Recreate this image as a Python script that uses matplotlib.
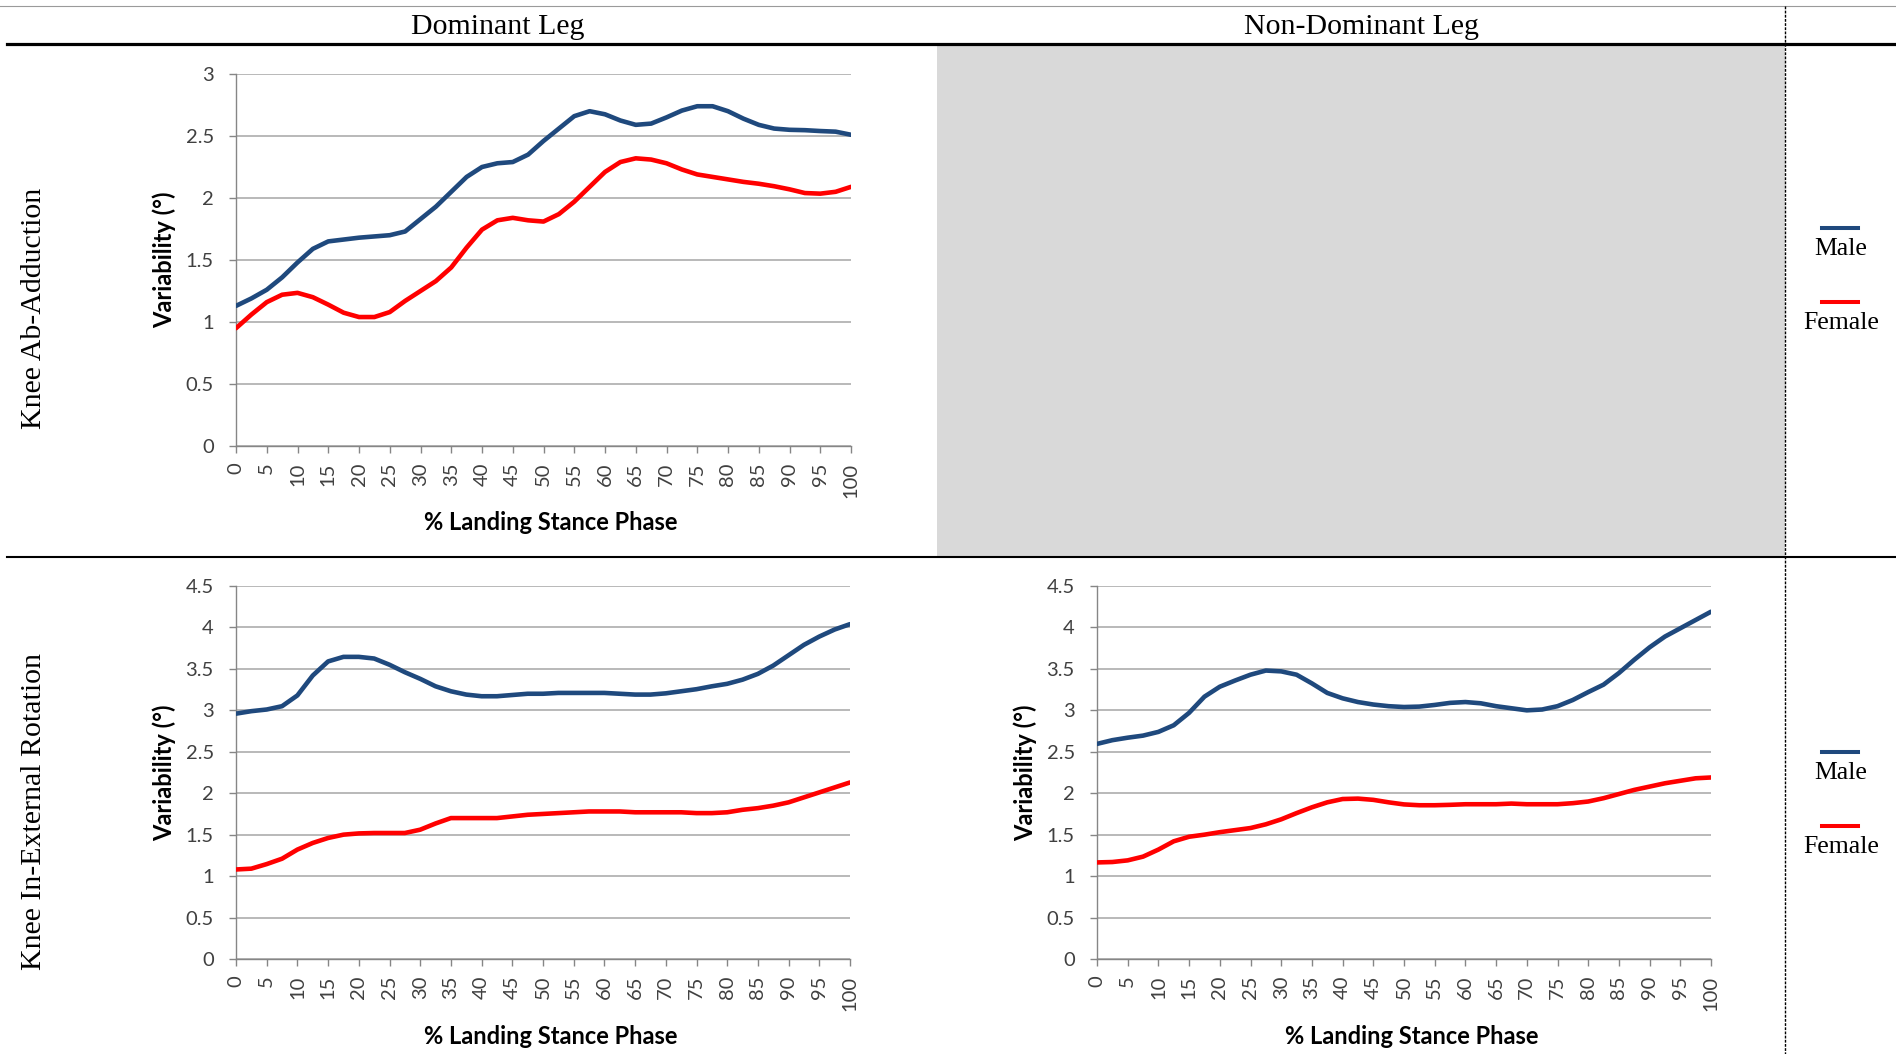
import numpy as np
import matplotlib
matplotlib.use('Agg')
import matplotlib.pyplot as plt
from matplotlib.lines import Line2D
from matplotlib.patches import Rectangle

# % fase de apoio (passo de 2.5)
fase = [0, 2.5, 5, 7.5, 10, 12.5, 15, 17.5, 20, 22.5, 25, 27.5, 30, 32.5, 35, 37.5, 40,
        42.5, 45, 47.5, 50, 52.5, 55, 57.5, 60, 62.5, 65, 67.5, 70, 72.5, 75, 77.5, 80,
        82.5, 85, 87.5, 90, 92.5, 95, 97.5, 100]

# Knee Ab-Adduction, perna dominante
abd_dom_male = [1.13, 1.19, 1.26, 1.36, 1.48, 1.59, 1.65, 1.665, 1.68, 1.69, 1.70, 1.73, 1.83,
                1.93, 2.05, 2.17, 2.25, 2.28, 2.29, 2.35, 2.46, 2.56, 2.66, 2.70, 2.675, 2.625,
                2.59, 2.60, 2.65, 2.705, 2.74, 2.74, 2.70, 2.64, 2.59, 2.56, 2.55, 2.547, 2.54,
                2.535, 2.51]
abd_dom_female = [0.95, 1.06, 1.16, 1.22, 1.235, 1.20, 1.14, 1.075, 1.04, 1.04, 1.08, 1.17, 1.25,
                  1.33, 1.44, 1.60, 1.745, 1.82, 1.84, 1.82, 1.81, 1.87, 1.97, 2.09, 2.21, 2.29,
                  2.32, 2.31, 2.28, 2.23, 2.19, 2.17, 2.15, 2.13, 2.115, 2.095, 2.07, 2.04, 2.035,
                  2.05, 2.09]

# Knee In-External Rotation, perna dominante
rot_dom_male = [2.96, 2.99, 3.01, 3.05, 3.18, 3.42, 3.59, 3.645, 3.645, 3.625, 3.55, 3.46, 3.38,
                3.29, 3.23, 3.19, 3.17, 3.17, 3.185, 3.20, 3.20, 3.21, 3.21, 3.21, 3.21, 3.20,
                3.19, 3.19, 3.205, 3.23, 3.255, 3.29, 3.32, 3.37, 3.44, 3.54, 3.665, 3.79, 3.89,
                3.975, 4.04]
rot_dom_female = [1.08, 1.09, 1.145, 1.21, 1.32, 1.40, 1.46, 1.50, 1.515, 1.52, 1.52, 1.52, 1.56,
                  1.635, 1.70, 1.70, 1.70, 1.70, 1.72, 1.74, 1.75, 1.76, 1.77, 1.78, 1.78, 1.78,
                  1.77, 1.77, 1.77, 1.77, 1.76, 1.76, 1.77, 1.80, 1.82, 1.85, 1.89, 1.95, 2.01,
                  2.07, 2.13]

# Knee In-External Rotation, perna nao dominante
rot_ndom_male = [2.595, 2.64, 2.67, 2.695, 2.74, 2.82, 2.97, 3.165, 3.285, 3.36, 3.43, 3.48, 3.47,
                 3.43, 3.325, 3.21, 3.145, 3.10, 3.07, 3.05, 3.04, 3.045, 3.065, 3.09, 3.10, 3.085,
                 3.05, 3.025, 3.00, 3.01, 3.05, 3.125, 3.22, 3.31, 3.45, 3.61, 3.76, 3.89, 3.99,
                 4.09, 4.19]
rot_ndom_female = [1.165, 1.17, 1.19, 1.235, 1.32, 1.42, 1.475, 1.50, 1.53, 1.555, 1.58, 1.625,
                   1.685, 1.76, 1.83, 1.89, 1.93, 1.935, 1.92, 1.89, 1.865, 1.855, 1.855, 1.86,
                   1.867, 1.867, 1.867, 1.875, 1.867, 1.867, 1.867, 1.88, 1.90, 1.94, 1.99, 2.04,
                   2.08, 2.12, 2.15, 2.18, 2.19]

xticks = list(range(0, 101, 5))
yticks_abd = [0, 0.5, 1, 1.5, 2, 2.5, 3]
yticks_rot = [0, 0.5, 1, 1.5, 2, 2.5, 3, 3.5, 4, 4.5]

col_headers = ['Dominant Leg', 'Non-Dominant Leg']
row_headers = ['Knee Ab-Adduction', 'Knee In-External Rotation']
legend_labels = ['Male', 'Female']

AZUL = '#1F497D'
VERMELHO = '#FF0000'
SERIF = 'Liberation Serif'
SANS = 'Lato'

W, H = 1896, 1054
fig = plt.figure(figsize=(W / 100, H / 100), dpi=100)


def fx(x):
    return x / W


def fy(y):
    return 1 - y / H


def linha(x0, y0, x1, y1, **kw):
    fig.add_artist(Line2D([fx(x0), fx(x1)], [fy(y0), fy(y1)], transform=fig.transFigure, **kw))


def painel(x0, x1, y0, y1, male, female, yticks):
    ax = fig.add_axes([fx(x0), fy(y1), (x1 - x0) / W, (y1 - y0) / H])
    ax.plot(fase, male, color=AZUL, lw=3.3, solid_capstyle='round',
            solid_joinstyle='round', zorder=3)
    ax.plot(fase, female, color=VERMELHO, lw=3.3, solid_capstyle='round',
            solid_joinstyle='round', zorder=3)
    ax.set_xlim(0, 100)
    ax.set_ylim(yticks[0], yticks[-1])
    ax.set_xticks(xticks)
    ax.set_xticklabels([str(t) for t in xticks], rotation=90, fontsize=14.5,
                       family=SANS, color='#404040')
    ax.set_yticks(yticks)
    ax.set_yticklabels(['%g' % t for t in yticks], fontsize=14.5, family=SANS, color='#404040')
    ax.tick_params(axis='y', length=5, width=1, color='#868686', pad=11)
    ax.tick_params(axis='x', length=5, width=1, color='#868686', pad=7)
    ax.grid(axis='y', color='#A6A6A6', lw=1.1)
    ax.set_axisbelow(True)
    for s in ['top', 'right']:
        ax.spines[s].set_visible(False)
    for s in ['left', 'bottom']:
        ax.spines[s].set_color('#868686')
        ax.spines[s].set_linewidth(1)
    ax.set_xlabel('% Landing Stance Phase', fontsize=17, fontweight='bold', family=SANS)
    ax.set_ylabel('Variability (°)', fontsize=17, fontweight='bold', family=SANS)
    ax.xaxis.set_label_coords(0.512, -0.176)
    ax.yaxis.set_label_coords(-0.097, 0.5)
    return ax


# fundo cinza da celula vazia
fig.add_artist(Rectangle((fx(937), fy(556)), (1785 - 937) / W, (556 - 46) / H,
                         transform=fig.transFigure, facecolor='#D9D9D9', edgecolor='none',
                         zorder=0))

# linhas da tabela
linha(0, 6, W, 6, color='#9A9A9A', lw=0.8)
linha(7, 43.5, W, 43.5, color='black', lw=2.3)
linha(7, 557, W, 557, color='black', lw=1.5)
linha(1785, 6, 1785, H, color='black', lw=1.0, linestyle=(0, (2, 1)))

# cabecalhos
fig.text(fx(498), fy(27), col_headers[0], ha='center', va='center', fontsize=21.5, family=SERIF)
fig.text(fx(1361), fy(27), col_headers[1], ha='center', va='center', fontsize=21.5, family=SERIF)
fig.text(fx(34), fy(308), row_headers[0], ha='center', va='center', rotation=90,
         fontsize=21.5, family=SERIF)
fig.text(fx(34), fy(812), row_headers[1], ha='center', va='center', rotation=90,
         fontsize=21.5, family=SERIF)

# legendas
for y_m in [228, 752]:
    for k, (lab, cor) in enumerate(zip(legend_labels, [AZUL, VERMELHO])):
        yl = y_m + k * 74
        linha(1822, yl, 1858, yl, color=cor, lw=2.9)
        fig.text(fx(1841), fy(yl + 21), lab, ha='center', va='center', fontsize=18.5, family=SERIF)

painel(236, 851, 74, 446, abd_dom_male, abd_dom_female, yticks_abd)
painel(236, 850, 586, 959, rot_dom_male, rot_dom_female, yticks_rot)
painel(1097, 1711, 586, 959, rot_ndom_male, rot_ndom_female, yticks_rot)

fig.savefig('out.png', dpi=100)
